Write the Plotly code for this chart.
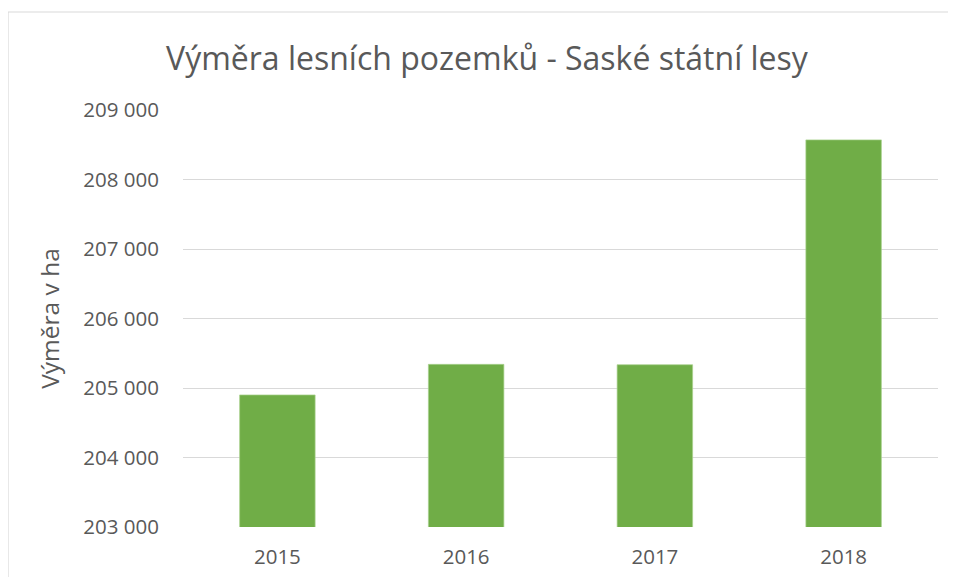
import plotly.graph_objects as go

years = ["2015", "2016", "2017", "2018"]
area_ha = [204900, 205340, 205335, 208570]

title_text = "Výměra lesních pozemků - Saské státní lesy"
y_title = "Výměra v ha"

W, H = 956, 577
L, R, T, B = 175, 26, 102, 58
pw = W - L - R
ph = H - T - B

def px_x(x):
    return (x - L) / pw

def px_y(y):
    return (H - B - y) / ph

FONT = "Open Sans, Noto Sans, sans-serif"

fig = go.Figure(
    go.Bar(
        x=years,
        y=area_ha,
        marker=dict(color="#70ad47", line=dict(color="#a9d18e", width=0.7)),
        width=0.4,
    )
)

fig.update_layout(
    width=W,
    height=H,
    margin=dict(l=L, r=R, t=T, b=B),
    paper_bgcolor="white",
    plot_bgcolor="white",
    separators=", ",
    font=dict(family=FONT, color="#595959", size=20),
    title=dict(
        text=title_text,
        x=0.501,
        xanchor="center",
        y=1 - 51 / H,
        yanchor="middle",
        font=dict(size=32, color="#595959", family=FONT),
    ),
    showlegend=False,
    shapes=[
        dict(
            type="rect",
            xref="paper",
            yref="paper",
            x0=px_x(0),
            x1=px_x(990),
            y0=px_y(620),
            y1=px_y(4),
            line=dict(color="#d9d9d9", width=1.2),
            fillcolor="rgba(0,0,0,0)",
            layer="below",
        )
    ],
)

fig.update_yaxes(
    range=[203000, 209000],
    dtick=1000,
    tickformat=",d",
    showgrid=True,
    gridcolor="#d9d9d9",
    gridwidth=1,
    zeroline=False,
    showline=False,
    ticks="",
    ticklabelstandoff=23,
    title=dict(text=y_title, font=dict(size=24.5, color="#595959"), standoff=16),
    tickfont=dict(size=20.5, color="#595959"),
)
fig.update_xaxes(
    showgrid=False,
    showline=False,
    ticks="",
    ticklabelstandoff=15,
    tickfont=dict(size=20.5, color="#595959"),
)

fig.write_html("out.html")
